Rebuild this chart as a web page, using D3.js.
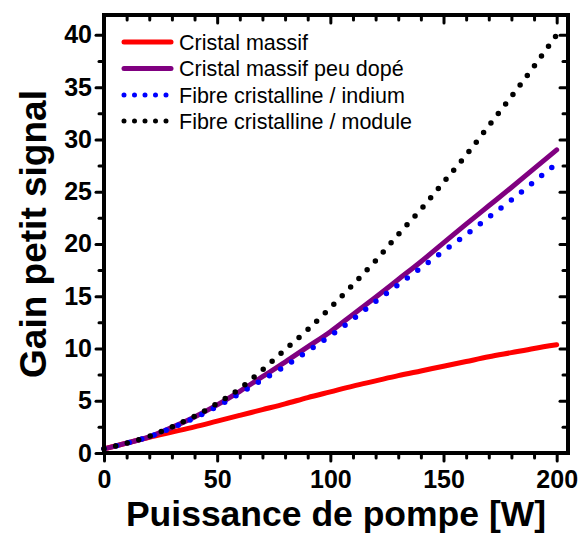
<!DOCTYPE html>
<html><head><meta charset="utf-8">
<script src="https://cdn.jsdelivr.net/npm/d3@7"></script>
<style>body{margin:0;background:#fff}svg{display:block}text{font-family:"Liberation Sans",Arial,sans-serif}</style>
</head><body>
<svg id="c" width="579" height="535"></svg>
<script>
const power = [0,10,20,30,40,50,60,70,80,90,100,110,120,130,140,150,160,170,180,190,200];
const redMassif = [0.4,0.95,1.5,2.0,2.5,3.05,3.6,4.15,4.7,5.3,5.85,6.4,6.9,7.4,7.85,8.3,8.75,9.2,9.6,10.0,10.35];
const purplePeuDope = [0.4,0.95,1.55,2.45,3.45,4.6,5.9,7.3,8.7,10.15,11.6,13.25,14.9,16.6,18.3,20.1,21.9,23.65,25.4,27.2,29.0];
const blueIndium = [0.4,0.95,1.55,2.4,3.35,4.45,5.7,7.0,8.3,9.75,11.2,12.8,14.5,16.1,17.7,19.3,20.9,22.55,24.2,25.95,27.7];
const blackModule = [0.4,0.95,1.6,2.5,3.5,4.75,6.15,7.95,9.9,11.8,13.9,16.1,18.4,20.9,23.3,25.9,28.5,31.3,34.1,37.0,40.0];
const seriesNames = ["Cristal massif","Cristal massif peu dopé","Fibre cristalline / indium","Fibre cristalline / module"];
const xTicks = [0,50,100,150,200];
const yTicks = [0,5,10,15,20,25,30,35,40];
const xTitle = "Puissance de pompe [W]";
const yTitle = "Gain petit signal";

const svg = d3.select("#c");
const L=104,R=568,T=15,B=453;
const x = d3.scaleLinear().domain([0,205]).range([L,R]);
const y = d3.scaleLinear().domain([0,41.9]).range([B,T]);

const series = [
  {name:seriesNames[0], vals:redMassif, color:"#ff0000", dash:null, w:5},
  {name:seriesNames[1], vals:purplePeuDope, color:"#800080", dash:null, w:5},
  {name:seriesNames[2], vals:blueIndium, color:"#0000ff", dash:"0 13", w:5.5},
  {name:seriesNames[3], vals:blackModule, color:"#000000", dash:"0 12", w:5.5}
];
const line = d3.line().x(d=>x(d[0])).y(d=>y(d[1])).curve(d3.curveMonotoneX);
const g = svg.append("g");
series.forEach(s=>{
  g.append("path").datum(power.map((p,i)=>[p,s.vals[i]]))
   .attr("d",line).attr("fill","none").attr("stroke",s.color)
   .attr("stroke-width",s.w).attr("stroke-linecap","round")
   .attr("stroke-dasharray",s.dash);
});

// axes
const minorX = d3.range(0,201,10).filter(v=>v%50!==0);
const minorY = d3.range(2.5,41,5);
function tickStyle(sel){sel.selectAll(".tick line").attr("stroke-width",3).attr("stroke-linecap","round");sel.select(".domain").remove();}
const xAx = svg.append("g").attr("transform",`translate(0,${B})`)
  .call(d3.axisBottom(x).tickValues(xTicks).tickSize(8).tickPadding(9).tickFormat(d3.format("d")));
tickStyle(xAx);
xAx.selectAll("text").attr("font-size",25).attr("font-weight","bold").attr("fill","#000");
svg.append("g").attr("transform",`translate(0,${B})`)
  .call(d3.axisBottom(x).tickValues(minorX).tickSize(5).tickFormat("")).call(tickStyle);
const yAx = svg.append("g").attr("transform",`translate(${L},0)`)
  .call(d3.axisLeft(y).tickValues(yTicks).tickSize(8).tickPadding(4).tickFormat(d3.format("d")));
tickStyle(yAx);
yAx.selectAll("text").attr("font-size",25).attr("font-weight","bold").attr("fill","#000");
svg.append("g").attr("transform",`translate(${L},0)`)
  .call(d3.axisLeft(y).tickValues(minorY).tickSize(5).tickFormat("")).call(tickStyle);
// mirrored ticks (inward on top/right)
svg.append("g").attr("transform",`translate(0,${T})`)
  .call(d3.axisBottom(x).tickValues(xTicks).tickSize(8).tickFormat("")).call(tickStyle);
svg.append("g").attr("transform",`translate(0,${T})`)
  .call(d3.axisBottom(x).tickValues(minorX).tickSize(5).tickFormat("")).call(tickStyle);
svg.append("g").attr("transform",`translate(${R},0)`)
  .call(d3.axisLeft(y).tickValues(yTicks).tickSize(8).tickFormat("")).call(tickStyle);
svg.append("g").attr("transform",`translate(${R},0)`)
  .call(d3.axisLeft(y).tickValues(minorY).tickSize(5).tickFormat("")).call(tickStyle);

svg.append("rect").attr("x",L).attr("y",T).attr("width",R-L).attr("height",B-T)
  .attr("fill","none").attr("stroke","#000").attr("stroke-width",4);

// titles
svg.append("text").attr("x",(L+R)/2).attr("y",526).attr("text-anchor","middle")
  .attr("font-size",35.5).attr("font-weight","bold").text(xTitle);
svg.append("text").attr("transform",`translate(46,${(T+B)/2}) rotate(-90)`).attr("text-anchor","middle")
  .attr("font-size",37).attr("font-weight","bold").text(yTitle);

// legend
const lg = svg.append("g");
const rowsY = [42,68.5,95,121];
series.forEach((s,i)=>{
  lg.append("line").attr("x1",124).attr("x2",171).attr("y1",rowsY[i]).attr("y2",rowsY[i])
    .attr("stroke",s.color).attr("stroke-width",5).attr("stroke-linecap","round")
    .attr("stroke-dasharray",s.dash? "0 10.5":null);
  lg.append("text").attr("x",179).attr("y",rowsY[i]).attr("dy","0.35em")
    .attr("font-size",21.5).attr("fill","#000").text(s.name);
});
</script>
</body></html>
